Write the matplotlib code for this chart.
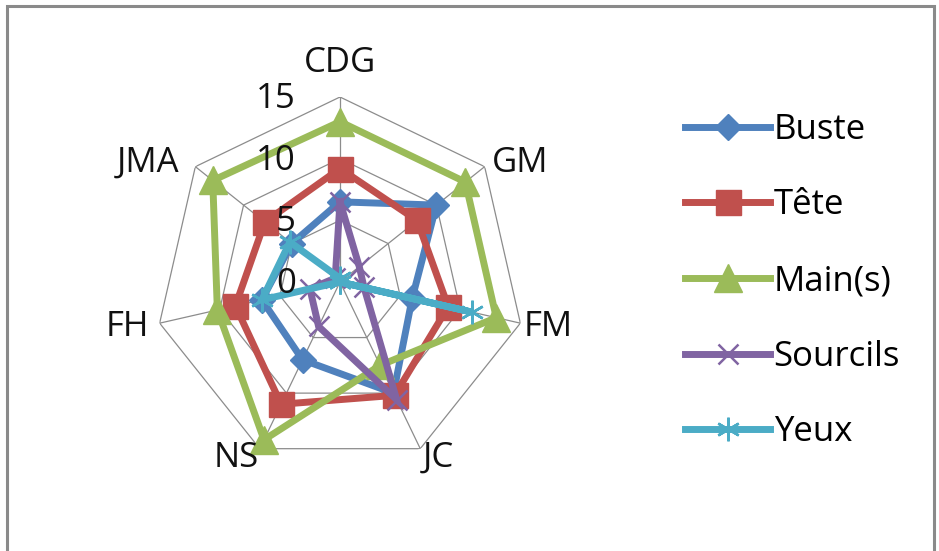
import numpy as np
import matplotlib
matplotlib.use("Agg")
import matplotlib.pyplot as plt
from matplotlib.lines import Line2D
from matplotlib.patches import Rectangle

# ---------------- data ----------------
categories = ["CDG", "GM", "FM", "JC", "NS", "FH", "JMA"]
series_names = ["Buste", "Tête", "Main(s)", "Sourcils", "Yeux"]
buste    = [6.5, 10, 6, 10, 7, 6.5, 5]
tete     = [9.2, 8, 9, 10.2, 11, 8.7, 7.8]
mains    = [13, 13, 13, 7.5, 14.2, 10.2, 13.2]
sourcils = [6.5, 2, 2, 10.6, 4, 2.5, 0.5]
yeux     = [0.3, 0, 11, 0, 0, 6.5, 5.2]
scale_ticks = [0, 5, 10, 15]

# ---------------- style ----------------
colors = ["#4F81BD", "#C0504D", "#9BBB59", "#8064A2", "#4BACC6"]
markers = ["D", "s", "^", "x", (6, 2, 0)]
msizes = [13, 18, 20, 15, 17]
mews = [1, 1, 1, 1.8, 1.8]
FONT = "Open Sans"
FS = 25

plt.rcParams["font.family"] = [FONT, "DejaVu Sans"]

W, H = 939, 551
fig = plt.figure(figsize=(W / 100, H / 100), dpi=100)
fig.patch.set_facecolor("white")

# outer chart frame
fig.patches.append(Rectangle((7 / W, -0.1), (934 - 7) / W, 1.1 - 6 / H,
                             transform=fig.transFigure, fill=False,
                             edgecolor="#8a8a8a", linewidth=2.2))

cx, cy, R = 340, 282, 185
ax = fig.add_axes([(cx - R) / W, (H - cy - R) / H, 2 * R / W, 2 * R / H],
                  projection="polar")
ax.set_theta_zero_location("N")
ax.set_theta_direction(-1)
ax.set_ylim(0, 15)
ax.set_xticks([])
ax.set_yticks([])
ax.grid(False)
ax.spines["polar"].set_visible(False)
ax.patch.set_alpha(0)

n = len(categories)
theta = np.arange(n) * 2 * np.pi / n
theta_c = np.append(theta, theta[0])

# grid rings and spokes
for v in scale_ticks[1:]:
    ax.plot(theta_c, [v] * (n + 1), color="#8c8c8c", lw=0.9, zorder=1)
for t in theta:
    ax.plot([t, t], [0, scale_ticks[-1]], color="#8c8c8c", lw=0.9, zorder=1)

# scale labels (drawn above the series, as in the reference)
for v in scale_ticks:
    ax.annotate(str(v), xy=(0, v), xytext=(-44, -2), textcoords="offset pixels",
                ha="right", va="center", fontsize=FS, color="#111111",
                annotation_clip=False, zorder=20)

# category labels
offsets = [(0, 34), (35, 4), (28, -4), (18, -9), (-23, -9), (-32, -4), (-47, 4)]
for t, lab, off in zip(theta, categories, offsets):
    ax.annotate(lab, xy=(t, 15), xytext=off, textcoords="offset pixels",
                ha="center", va="center", fontsize=FS, color="#111111",
                annotation_clip=False, zorder=20)

# series
all_series = [buste, tete, mains, sourcils, yeux]
handles = []
for i, vals in enumerate(all_series):
    v = np.append(vals, vals[0])
    ax.plot(theta_c, v, color=colors[i], lw=5, zorder=3 + i,
            solid_joinstyle="miter", clip_on=False)
    ax.plot(theta, vals, linestyle="none", marker=markers[i],
            markersize=msizes[i], color=colors[i], mec=colors[i],
            mew=mews[i], zorder=3 + i, clip_on=False)
    handles.append(Line2D([], [], color=colors[i], lw=5, marker=markers[i],
                          markersize=msizes[i], mec=colors[i], mew=mews[i]))

fig.legend(handles, series_names, loc="center left",
           bbox_to_anchor=(685 / W, 1 - 281 / H), frameon=False,
           fontsize=FS, handlelength=2.45, handletextpad=0.1,
           labelspacing=1.2, borderpad=0, borderaxespad=0)

fig.savefig("out.png", dpi=100, facecolor="white")
